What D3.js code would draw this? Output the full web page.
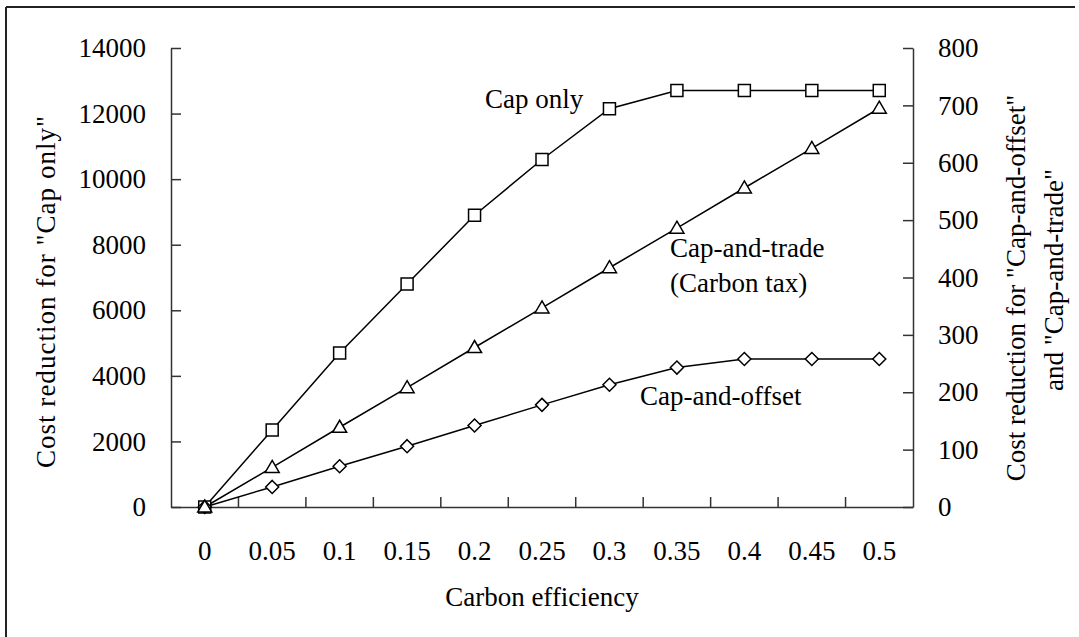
<!DOCTYPE html>
<html>
<head>
<meta charset="utf-8">
<script src="https://cdn.jsdelivr.net/npm/d3@7"></script>
<style>
  body { margin: 0; background: #fff; }
</style>
</head>
<body>
<div id="chart"></div>
<script>
// donnees
const categories = ["0", "0.05", "0.1", "0.15", "0.2", "0.25", "0.3", "0.35", "0.4", "0.45", "0.5"];
const capOnly = [0, 2350, 4700, 6800, 8900, 10600, 12150, 12700, 12700, 12700, 12700];
const capAndTrade = [0, 69, 139, 208, 278, 347, 417, 486, 556, 625, 695];
const capAndOffset = [0, 35, 71, 106, 142, 178, 213, 243, 258, 258, 258];
const leftTicks = [0, 2000, 4000, 6000, 8000, 10000, 12000, 14000];
const rightTicks = [0, 100, 200, 300, 400, 500, 600, 700, 800];

const W = 1079, H = 637;
const gauche = 171, droite = 913, haut = 48, bas = 507;
const taille = "27px";
const police = "'Liberation Serif', 'Times New Roman', serif";

const svg = d3.select("#chart").append("svg").attr("width", W).attr("height", H);

// cadre (seulement haut et gauche visibles)
svg.append("line").attr("x1", 6).attr("y1", 7).attr("x2", 1075).attr("y2", 7)
    .attr("stroke", "#222").attr("stroke-width", 2);
svg.append("line").attr("x1", 6).attr("y1", 7).attr("x2", 6).attr("y2", H)
    .attr("stroke", "#222").attr("stroke-width", 2);

const x = d3.scaleBand().domain(categories).range([gauche, droite]).padding(0);
const yL = d3.scaleLinear().domain([0, 14000]).range([bas, haut]);
const yR = d3.scaleLinear().domain([0, 800]).range([bas, haut]);
const cx = d => x(d) + x.bandwidth() / 2;

function texte(sel) {
    return sel.style("font-family", police).style("font-size", taille).style("fill", "#000");
}

function styleAxe(g) {
    g.selectAll("path.domain").attr("stroke", "#333").attr("stroke-width", 1.5);
    g.selectAll(".tick line").attr("stroke", "#333").attr("stroke-width", 1.5);
    texte(g.selectAll(".tick text"));
}

// axe gauche
svg.append("g").attr("transform", "translate(" + gauche + ",0)")
    .call(d3.axisLeft(yL).tickValues(leftTicks).tickFormat(d3.format("d"))
        .tickSize(-10).tickSizeOuter(0).tickPadding(25))
    .call(styleAxe);

// axe droit
svg.append("g").attr("transform", "translate(" + droite + ",0)")
    .call(d3.axisRight(yR).tickValues(rightTicks).tickFormat(d3.format("d"))
        .tickSize(-10).tickSizeOuter(0).tickPadding(25))
    .call(styleAxe);

// axe du bas
const gx = svg.append("g").attr("transform", "translate(0," + bas + ")")
    .call(d3.axisBottom(x).tickSize(0).tickSizeOuter(0).tickPadding(34))
    .call(styleAxe);
// petites graduations entre les categories
gx.selectAll("line.sep").data(categories.slice(1)).enter().append("line")
    .attr("class", "sep")
    .attr("x1", d => x(d)).attr("x2", d => x(d))
    .attr("y1", 0).attr("y2", -10)
    .attr("stroke", "#333").attr("stroke-width", 1.5);

// titres des axes
texte(svg.append("text").attr("x", (gauche + droite) / 2).attr("y", 606)
    .attr("text-anchor", "middle")).text("Carbon efficiency");
texte(svg.append("text").attr("transform", "translate(55,292) rotate(-90)")
    .attr("text-anchor", "middle")
    .attr("textLength", 352).attr("lengthAdjust", "spacing")).text('Cost reduction for "Cap only"');
texte(svg.append("text").attr("transform", "translate(1025,288) rotate(-90)")
    .attr("text-anchor", "middle")).text('Cost reduction for "Cap-and-offset"');
texte(svg.append("text").attr("transform", "translate(1063,280) rotate(-90)")
    .attr("text-anchor", "middle")).text('and "Cap-and-trade"');

// formes des marqueurs
function carre(s) { return "M" + (-s) + "," + (-s) + "H" + s + "V" + s + "H" + (-s) + "Z"; }
function triangle(s) { return "M0," + (-s - 1) + "L" + (s + 1) + "," + (s - 1) + "H" + (-s - 1) + "Z"; }
function losange(s) { return "M0," + (-s) + "L" + s + ",0L0," + s + "L" + (-s) + ",0Z"; }

const series = [
    { valeurs: capOnly, y: yL, forme: () => carre(6) },
    { valeurs: capAndOffset, y: yR, forme: () => losange(6.5) },
    { valeurs: capAndTrade, y: yR, forme: () => triangle(6) }
];

series.forEach(s => {
    const ligne = d3.line().x((v, i) => cx(categories[i])).y(v => s.y(v));
    svg.append("path").attr("d", ligne(s.valeurs))
        .attr("fill", "none").attr("stroke", "#000").attr("stroke-width", 1.5);
});
series.forEach(s => {
    svg.append("g").selectAll("path").data(s.valeurs).enter().append("path")
        .attr("d", s.forme())
        .attr("transform", (v, i) => "translate(" + cx(categories[i]) + "," + s.y(v) + ")")
        .attr("fill", "#fff").attr("stroke", "#000").attr("stroke-width", 1.5);
});

// etiquettes des series
texte(svg.append("text").attr("x", 485).attr("y", 108)).text("Cap only");
texte(svg.append("text").attr("x", 670).attr("y", 257)).text("Cap-and-trade");
texte(svg.append("text").attr("x", 670).attr("y", 292)).text("(Carbon tax)");
texte(svg.append("text").attr("x", 640).attr("y", 405)).text("Cap-and-offset");
</script>
</body>
</html>
